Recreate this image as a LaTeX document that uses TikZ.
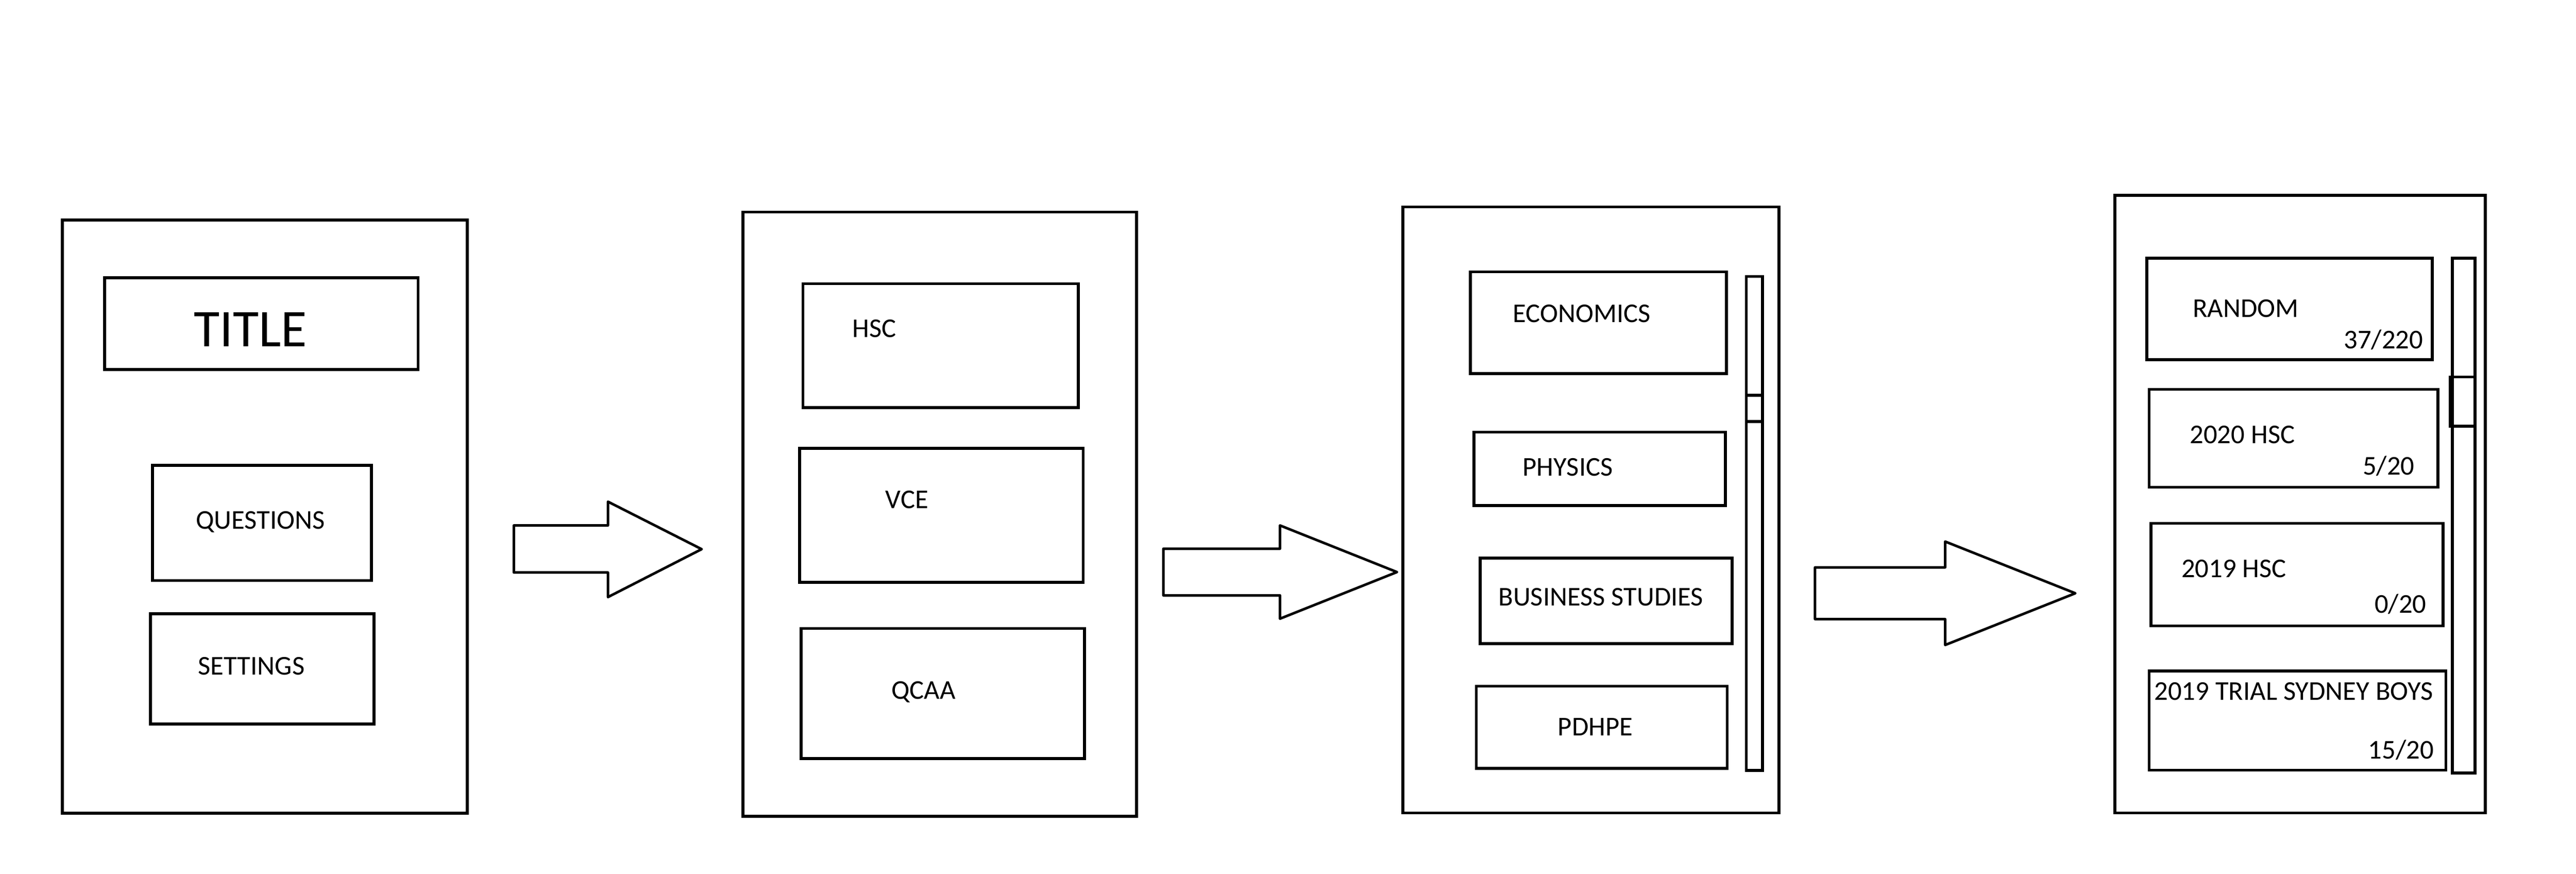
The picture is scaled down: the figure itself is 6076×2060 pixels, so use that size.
\documentclass[tikz,border=0pt]{standalone}
\usepackage{fontspec}
\setmainfont{Carlito}
\usetikzlibrary{fit}
\begin{document}
\begin{tikzpicture}[x=0.2pt,y=-0.2pt,
  box/.style={draw=black,line width=1.4pt,inner sep=0pt,fill=none},
  blockarrow/.style={draw=black,line width=1.2pt,line join=round,fill=white},
  lbl/.style={inner sep=0pt,text height=8.2pt,text depth=0pt,font=\fontsize{12.8}{14}\selectfont},
  biglbl/.style={inner sep=0pt,text height=16pt,text depth=0pt,font=\fontsize{25}{28}\selectfont}]
\useasboundingbox[fill=white] (0,0) rectangle (6076,2060);
\newcommand\bx[5]{\node[box,fit={(#2,#3) (#4,#5)}] (#1) {};}
% panel 1
\bx{p1}{147}{519}{1102}{1918}
\bx{title}{247}{655}{986}{871}
\bx{quest}{360}{1097}{876}{1369}
\bx{sett}{355}{1447}{882}{1707}
\node[biglbl] (ttitle) at (591,777) {TITLE};
\node[lbl] (tquest) at (614,1227) {QUESTIONS};
\node[lbl] (tsett) at (593,1571) {SETTINGS};
% panel 2
\bx{p2}{1752}{500}{2681}{1925}
\bx{hsc}{1894}{669}{2543}{961}
\bx{vce}{1886}{1057}{2555}{1373}
\bx{qcaa}{1890}{1482}{2558}{1789}
\node[lbl] (thsc) at (2062,775) {HSC};
\node[lbl] (tvce) at (2139,1178) {VCE};
\node[lbl] (tqcaa) at (2178,1628) {QCAA};
% panel 3
\bx{p3}{3309}{488}{4196}{1917}
\bx{eco}{3468}{641}{4072}{881}
\bx{phy}{3477}{1019}{4070}{1192}
\bx{bus}{3491}{1316}{4085}{1518}
\bx{pdh}{3482}{1618}{4074}{1812}
\bx{scr3}{4119}{652}{4157}{1817}
\bx{thumb3}{4119}{932}{4157}{994}
\node[lbl] (teco) at (3731,740) {ECONOMICS};
\node[lbl] (tphy) at (3698,1102) {PHYSICS};
\node[lbl] (tbus) at (3776,1408) {BUSINESS STUDIES};
\node[lbl] (tpdh) at (3763,1714) {PDHPE};
% panel 4
\bx{p4}{4988}{461}{5862}{1917}
\bx{rnd}{5064}{609}{5737}{848}
\bx{h20}{5069}{918}{5750}{1149}
\bx{h19}{5073}{1234}{5762}{1476}
\bx{trial}{5069}{1582}{5769}{1816}
\bx{scr4}{5784}{609}{5838}{1823}
\bx{thumb4}{5779}{889}{5838}{1005}
\node[lbl] (trnd) at (5297,727) {RANDOM};
\node[lbl] (srnd) at (5622,801) {37/220};
\node[lbl] (th20) at (5289,1025) {2020 HSC};
\node[lbl] (sh20) at (5634,1099) {5/20};
\node[lbl] (th19) at (5269,1341) {2019 HSC};
\node[lbl] (sh19) at (5662,1425) {0/20};
\node[lbl] (ttrial) at (5410,1630) {2019 TRIAL SYDNEY BOYS};
\node[lbl] (strial) at (5663,1769) {15/20};
% block arrows
\draw[blockarrow] (1212,1239) -- (1434,1239) -- (1434,1183) -- (1655,1295) -- (1434,1408) -- (1434,1350) -- (1212,1350) -- cycle;
\draw[blockarrow] (2744,1294) -- (3019,1294) -- (3019,1239) -- (3295,1349) -- (3019,1459) -- (3019,1404) -- (2744,1404) -- cycle;
\draw[blockarrow] (4281,1338) -- (4588,1338) -- (4588,1277) -- (4895,1399) -- (4588,1521) -- (4588,1460) -- (4281,1460) -- cycle;
\end{tikzpicture}
\end{document}
